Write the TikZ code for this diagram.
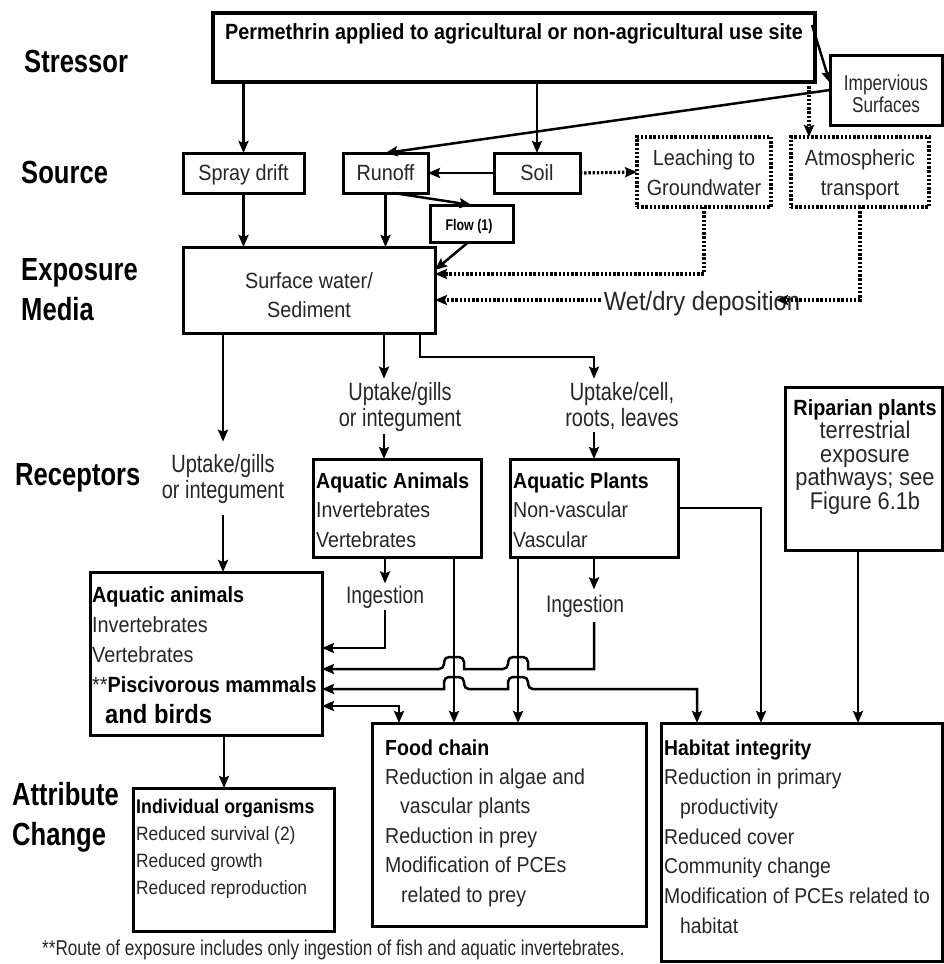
\documentclass[tikz,border=0pt]{standalone}
\usepackage{fontspec}
\setmainfont[FakeStretch=0.9]{Liberation Sans}
\newfontfamily\narrowf[FakeStretch=0.8]{Liberation Sans}
\usetikzlibrary{arrows.meta,calc}
\newcommand\Lft[1]{\vtop{\halign{##\hfil\cr#1\crcr}}}
\newcommand\Ctr[1]{\vtop{\halign{\hfil##\hfil\cr#1\crcr}}}
\newcommand\bb[1]{\textbf{\color{black}#1}}
\newcommand\fsz[2]{\fontsize{#1}{#2}\selectfont}
\newcommand\bx[6][]{\node[box,#1,minimum width={#5-#3},minimum height={#6-#4}] (#2) at (#3,#4) {};}
\begin{document}
\begin{tikzpicture}[x=1pt,y=-1pt,
  >={Stealth[length=12pt,width=10pt,inset=2pt]},
  box/.style={draw, line width=3pt, anchor=north west, inner sep=0pt, outer sep=0pt},
  dbox/.style={dash pattern=on 2.4pt off 1.8pt, line width=3.4pt},
  arr/.style={line width=2.5pt, ->},
  arr2/.style={line width=2.5pt, <->},
  darr/.style={line width=3.2pt, dash pattern=on 2.4pt off 1.8pt, ->},
  tx/.style={inner sep=0pt, text=black!85, font=\fsz{21.7}{29.5}},
  lab/.style={inner sep=0pt, font=\narrowf\bfseries\fsz{32}{36}, anchor=base west},
  nlab/.style={inner xsep=2pt, text=black!85, font=\narrowf\fsz{25}{26}, anchor=base}]
\fill[white] (0,0) rectangle (943,964);
\useasboundingbox (0,0) rectangle (943,964);

% side labels
\node[lab] (lstr) at (24,72) {Stressor};
\node[lab] (lsrc) at (21,183) {Source};
\node[lab] (lexp) at (21,280) {Exposure};
\node[lab] (lmed) at (21,320) {Media};
\node[lab] (lrec) at (15,485) {Receptors};
\node[lab] (latt) at (12,805) {Attribute};
\node[lab] (lchg) at (12,845) {Change};

% boxes
\bx[line width=4pt]{stressor}{213}{13}{815}{82}
\bx{imperv}{830}{55}{942}{125}
\bx{spray}{183}{153}{304}{193}
\bx{runoff}{343}{153}{428}{193}
\bx{soil}{494}{153}{580}{193}
\bx[dbox]{leach}{637}{137}{771}{207}
\bx[dbox]{atmos}{791}{137}{929}{207}
\bx{flow}{430}{205}{513}{242}
\bx{surface}{183}{247}{435}{333}
\bx{animals}{313}{459}{481}{557}
\bx{plants}{510}{459}{678}{557}
\bx{riparian}{785}{387}{942}{550}
\bx{leftbox}{90}{572}{322}{735}
\bx{indiv}{133}{788}{334}{931}
\bx{food}{372}{723}{646}{926}
\bx{habitat}{661}{723}{942}{961}

% texts
\node[tx, font=\bfseries\fsz{22}{24}, text=black, anchor=base] (stxt) at (514,39) {Permethrin applied to agricultural or non-agricultural use site};
\node[tx, font=\narrowf\fsz{21.5}{22}, anchor=base] (imptxt) at (886,90) {\Ctr{Impervious\cr Surfaces}};
\node[tx, font=\fsz{22}{30}, anchor=base] (spraytxt) at (243.5,180) {Spray drift};
\node[tx, font=\fsz{22}{30}, anchor=base] (runofftxt) at (385.5,180) {Runoff};
\node[tx, font=\fsz{22}{30}, anchor=base] (soiltxt) at (537,180) {Soil};
\node[tx, font=\fsz{22}{30}, anchor=base] (leachtxt) at (704,165) {\Ctr{Leaching to\cr Groundwater}};
\node[tx, font=\fsz{22}{30}, anchor=base] (atmostxt) at (860,165) {\Ctr{Atmospheric\cr transport}};
\node[tx, font=\narrowf\bfseries\fsz{15.5}{18}, text=black, anchor=base] (flowtxt) at (469,230) {Flow (1)};
\node[tx, font=\fsz{22}{29}, anchor=base] (surftxt) at (309,288) {\Ctr{Surface water/\cr Sediment}};
\node[tx, font=\fsz{26.4}{28}, anchor=base, inner sep=3pt] (wd) at (702,310) {Wet/dry deposition};

\node[nlab, inner ysep=12pt] (uptL) at (223,472) {\Ctr{Uptake/gills\cr or integument}};
\node[nlab, inner ysep=3pt] (uptM) at (400,400) {\Ctr{Uptake/gills\cr or integument}};
\node[nlab, inner ysep=3pt] (uptR) at (622,400) {\Ctr{Uptake/cell,\cr roots, leaves}};
\node[nlab, font=\narrowf\fsz{24}{26}, inner ysep=2pt] (ing1) at (385,603) {Ingestion};
\node[nlab, font=\narrowf\fsz{24}{26}, inner ysep=5pt] (ing2) at (585,612) {Ingestion};

\node[tx, anchor=base west] (animtxt) at (316,488) {\Lft{\bb{Aquatic Animals}\cr Invertebrates\cr Vertebrates}};
\node[tx, anchor=base west] (planttxt) at (513,488) {\Lft{\bb{Aquatic Plants}\cr Non-vascular\cr Vascular}};
\node[tx, font=\fsz{24.2}{23.5}, anchor=base] (ripartxt) at (865,415) {\Ctr{\bb{\fsz{22}{23.5}Riparian plants}\cr terrestrial\cr exposure\cr pathways; see\cr Figure 6.1b}};
\node[tx, font=\fsz{22}{30.3}, anchor=base west] (lefttxt) at (92,602) {\Lft{\bb{Aquatic animals}\cr Invertebrates\cr Vertebrates\cr **\bb{Piscivorous mammals}\cr \hspace*{13pt}\bb{\fsz{26.4}{30}and birds}}};
\node[tx, font=\fsz{19.3}{27.3}, anchor=base west] (indtxt) at (136,813) {\Lft{\bb{\fsz{19.8}{27.3}Individual organisms}\cr Reduced survival (2)\cr Reduced growth\cr Reduced reproduction}};
\node[tx, font=\fsz{21.7}{29.4}, anchor=base west] (foodtxt) at (385,755) {\Lft{\bb{Food chain}\cr Reduction in algae and\cr \hspace*{15pt}vascular plants\cr Reduction in prey\cr Modification of PCEs\cr \hspace*{16pt}related to prey}};
\node[tx, font=\fsz{21.5}{29.7}, anchor=base west] (habtxt) at (664,755) {\Lft{\bb{Habitat integrity}\cr Reduction in primary\cr \hspace*{16pt}productivity\cr Reduced cover\cr Community change\cr Modification of PCEs related to\cr \hspace*{16pt}habitat}};
\node[tx, font=\narrowf\fsz{21.4}{24}, anchor=base west] (foot) at (42,955) {**Route of exposure includes only ingestion of fish and aquatic invertebrates.};

% helper coordinates
\coordinate (c809) at (809,0);
\coordinate (h274) at (0,274);
\coordinate (wdtip) at (776,300);
\coordinate (c384) at (384,0);
\coordinate (k1) at (420,357);
\coordinate (h648) at (0,648);
\coordinate (h669) at (0,669);
\coordinate (h689) at (0,689);
\coordinate (h706) at (0,706);
\coordinate (v1) at (454,0);
\coordinate (v2) at (518,0);
\coordinate (c697) at (697,0);
\coordinate (c399) at (399,0);
\coordinate (c761) at (761,0);
\coordinate (c858) at (858,0);
\coordinate (c224) at (224,0);

% stressor / source connectors
\draw[arr] (stressor.south -| spray) -- (spray.north);
\draw[arr] (stressor.south -| soil) -- (soil.north);
\draw[arr] ($(stressor.north east)+(-3,12)$) -- ($(imperv.north west)+(0,28)$);
\draw[arr] ($(imperv.north west)+(0,35)$) -- (runoff.north);
\draw[darr] (stressor.south -| c809) -- (atmos.north -| c809);
\draw[arr] (soil.west) -- (runoff.east);
\draw[darr] (soil.east) -- (leach.west);
\draw[arr] ($(runoff.south)+(8,0)$) -- (flow.north);
\draw[arr] ($(flow.south)+(-3,0)$) -- ($(surface.north east)+(0,23)$);
\draw[arr] (spray.south) -- (surface.north -| spray);
\draw[arr] (runoff.south) -- (surface.north -| runoff);
\draw[darr] (leach.south) |- (surface.east |- h274);
\draw[darr] (atmos.south) |- (wdtip);
\draw[darr] (wd.west |- wdtip) -- (surface.east |- wdtip);

% exposure -> receptors
\draw[arr] (surface.south -| uptL) -- (uptL.north);
\draw[arr] (uptL.south) -- (leftbox.north -| uptL);
\draw[arr] (surface.south -| c384) -- (uptM.north -| c384);
\draw[arr] (uptM.south -| c384) -- (animals.north -| c384);
\draw[arr] (surface.south -| k1) |- (k1 -| plants) -- (uptR.north -| plants);
\draw[arr] (uptR.south -| plants) -- (plants.north);

% receptors -> attribute change
\draw[arr] (animals.south -| v1) -- (food.north -| v1);
\draw[arr] (plants.south -| v2) -- (food.north -| v2);
\draw[arr] (animals.south -| ing1) -- (ing1.north);
\draw[arr] (ing1.south) |- (leftbox.east |- h648);
\draw[arr] (plants.south) -- (ing2.north -| plants);
\draw[arr] (ing2.south -| plants) -- (plants |- h669) -- ($(v2 |- h669)+(10,0)$)
  [rounded corners=5pt] -- ++(0,-12) -- ++(-20,0) -- ++(0,12) [sharp corners]
  -- ($(v1 |- h669)+(10,0)$)
  [rounded corners=5pt] -- ++(0,-12) -- ++(-20,0) -- ++(0,12) [sharp corners]
  -- (leftbox.east |- h669);
\draw[arr2] (leftbox.east |- h689) -- ($(v1 |- h689)+(-10,0)$)
  [rounded corners=5pt] -- ++(0,-12) -- ++(20,0) -- ++(0,12) [sharp corners]
  -- ($(v2 |- h689)+(-10,0)$)
  [rounded corners=5pt] -- ++(0,-12) -- ++(20,0) -- ++(0,12) [sharp corners]
  -| (habitat.north -| c697);
\draw[arr2] (leftbox.east |- h706) -| (food.north -| c399);
\draw[arr] (plants.east) -| (habitat.north -| c761);
\draw[arr] (riparian.south -| c858) -- (habitat.north -| c858);
\draw[arr] (leftbox.south -| c224) -- (indiv.north -| c224);
\end{tikzpicture}
\end{document}
